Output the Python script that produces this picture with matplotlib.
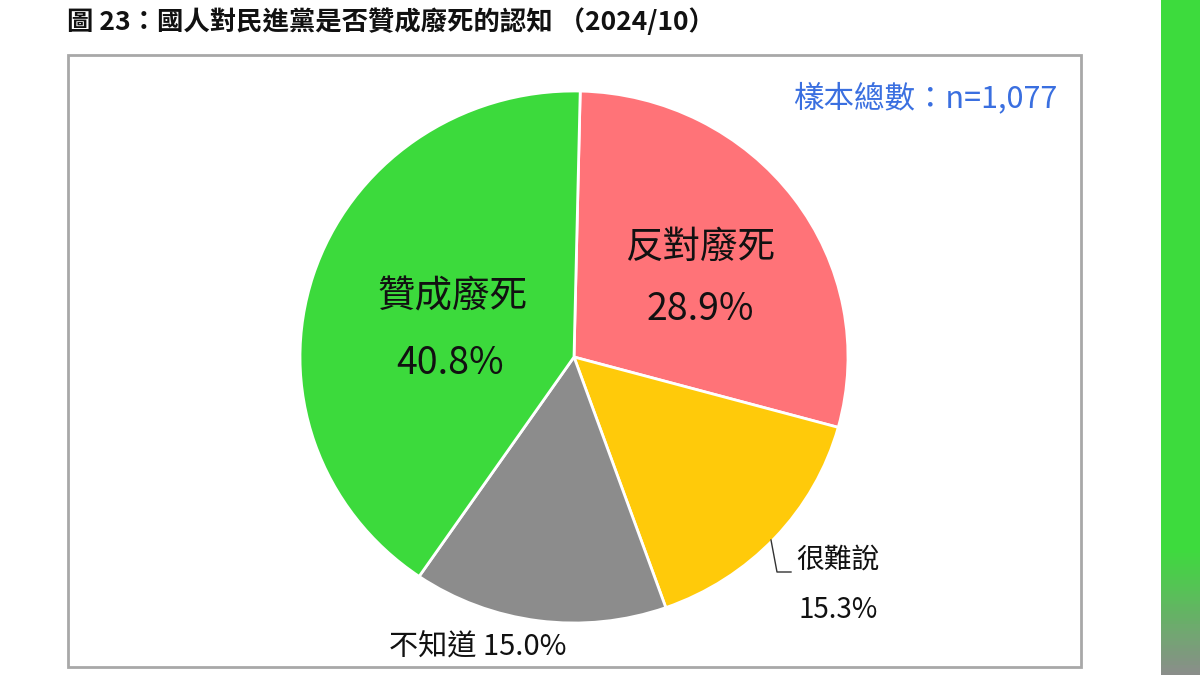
import matplotlib
matplotlib.use('Agg')
import matplotlib.pyplot as plt
import numpy as np
from matplotlib.patches import Rectangle

plt.rcParams['font.family'] = ['Noto Sans CJK TC', 'DejaVu Sans']

# Data (clockwise from the top)
labels = ['反對廢死', '很難說', '不知道', '贊成廢死']
values = [28.9, 15.3, 15.0, 40.8]
colors = ['#FF7378', '#FFCA0A', '#8C8C8C', '#3CDA3C']

title = '圖 23：國人對民進黨是否贊成廢死的認知 （2024/10）'
sample_note = '樣本總數：n=1,077'

W, H = 1200, 675
fig = plt.figure(figsize=(W / 100, H / 100), dpi=100)
fig.patch.set_facecolor('white')

# pie axes, placed in pixel box (slightly wider than tall, like the source)
px0, px1, py0, py1 = 300, 848, 91, 623
pie_ax = fig.add_axes([px0 / W, (H - py1) / H, (px1 - px0) / W, (py1 - py0) / H])
pie_ax.pie(values, colors=colors, startangle=88.7, counterclock=False,
           radius=1.0, wedgeprops=dict(edgecolor='white', linewidth=2))
pie_ax.set_aspect('auto')
pie_ax.set_xlim(-1, 1)
pie_ax.set_ylim(-1, 1)
pie_ax.axis('off')

# overlay axes in pixel coordinates for frame and text
ax = fig.add_axes([0, 0, 1, 1], zorder=5)
ax.set_xlim(0, W)
ax.set_ylim(H, 0)
ax.axis('off')
ax.patch.set_alpha(0)

ax.add_patch(Rectangle((68, 55), 1013, 612, fill=False,
                       edgecolor='#A8A8A8', linewidth=2))

ax.text(67, 22, title, fontsize=19, fontweight='heavy', color='#111111',
        ha='left', va='center')
ax.text(1057, 98, sample_note, fontsize=22, color='#3A6FE0',
        ha='right', va='center')

# slice labels
txt = dict(ha='center', va='center', color='#111111', fontweight='medium')
ax.text(452, 297, labels[3], fontsize=27, **txt)
ax.text(450, 364, f'{values[3]:.1f}%', fontsize=27, **txt)
ax.text(700, 247, labels[0], fontsize=27, **txt)
ax.text(700, 309, f'{values[0]:.1f}%', fontsize=27, **txt)
ax.text(838, 560, labels[1], fontsize=20, **txt)
ax.text(838, 610, f'{values[1]:.1f}%', fontsize=20, **txt)
ax.text(478, 648, f'{labels[2]} {values[2]:.1f}%', fontsize=21, **txt)

# leader line for 很難說
ax.plot([771, 777, 791], [540, 572, 572], color='#333333', linewidth=1)

# green strip at the right edge, fading to gray at the bottom
strip_h = 200
t = np.clip((np.arange(strip_h) - 162) / 38.0, 0, 1)[:, None, None]
green = np.array([0.24, 0.86, 0.24])
gray = np.array([0.55, 0.55, 0.55])
grad = np.broadcast_to(green * (1 - t) + gray * t, (strip_h, 8, 3))
ax.imshow(grad, extent=[1161, 1200, H, 0], aspect='auto', zorder=1)
ax.set_xlim(0, W)
ax.set_ylim(H, 0)

fig.savefig('out.png', dpi=100, facecolor='white')
